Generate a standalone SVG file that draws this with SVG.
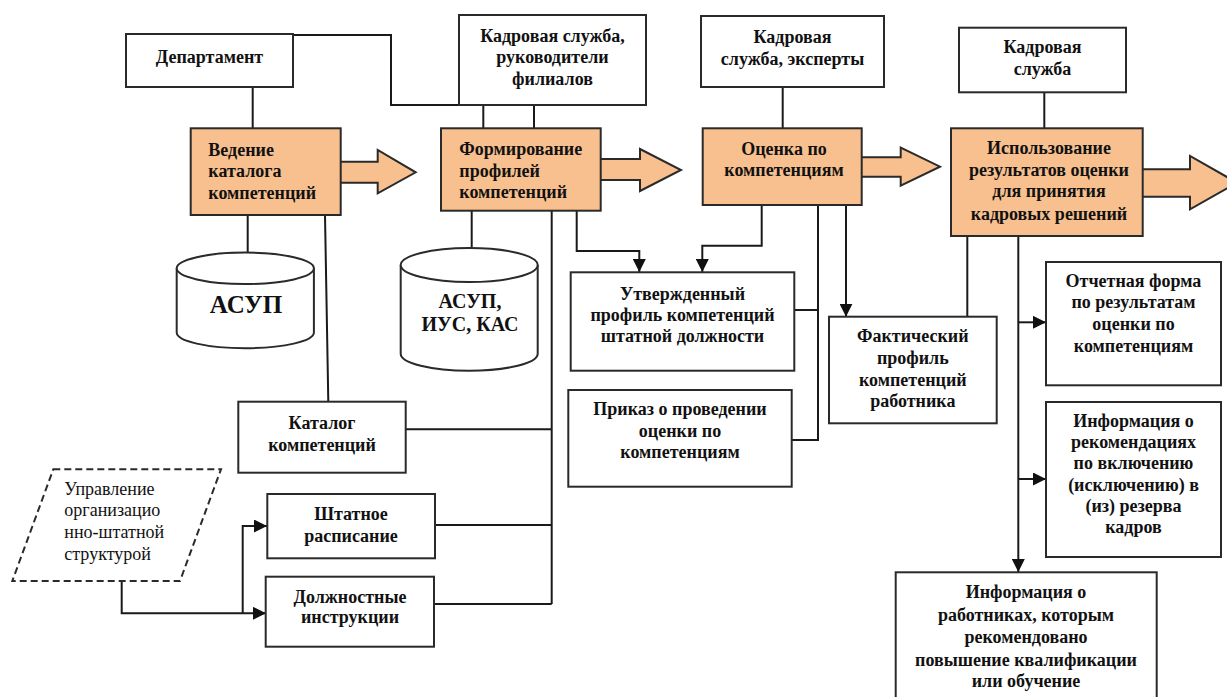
<svg xmlns="http://www.w3.org/2000/svg" width="1227" height="697" viewBox="0 0 1227 697">
<defs>
<style>
.box{fill:#fff;stroke:#2a2a2a;stroke-width:2}
.proc{fill:#F8C08F;stroke:#2a2a2a;stroke-width:2}
.ln{fill:none;stroke:#1a1a1a;stroke-width:2}
text{font-family:'Liberation Serif',Tinos,'Times New Roman',Times,'DejaVu Serif','Noto Serif',serif}
.t{font-weight:bold;font-size:18px;fill:#111;text-anchor:middle}
.tl{text-anchor:start}
.r{font-size:18px;fill:#111}
.db{fill:#fff;stroke:#2a2a2a;stroke-width:2}
</style>
<marker id="ah" markerWidth="13" markerHeight="13" refX="13" refY="6.5" orient="auto" markerUnits="userSpaceOnUse">
<path d="M0,0 L13,6.5 L0,13 Z" fill="#111"/>
</marker>
</defs>

<g id="connectors">
<path class="ln" d="M293,35 H391 V105 H459"/>
<path class="ln" d="M252.7,87 V128"/>
<path class="ln" d="M247.7,215 V253"/>
<path class="ln" d="M325,215 L328.3,402"/>
<path class="ln" d="M483.3,105 V128"/>
<path class="ln" d="M534,105 V128"/>
<path class="ln" d="M471.7,211 V248"/>
<path class="ln" d="M551.7,202 V604"/>
<path class="ln" d="M576.7,211 V251 H639.3 V272" marker-end="url(#ah)"/>
<path class="ln" d="M782.7,87 V128"/>
<path class="ln" d="M761.7,205 V245.7 H702.3 V272" marker-end="url(#ah)"/>
<path class="ln" d="M818,205 V440 H791.7"/>
<path class="ln" d="M794.3,310 H818"/>
<path class="ln" d="M846,205 V316.7" marker-end="url(#ah)"/>
<path class="ln" d="M1044.3,92 V128"/>
<path class="ln" d="M967.3,236 V316"/>
<path class="ln" d="M1018.3,236 V572" marker-end="url(#ah)"/>
<path class="ln" d="M1018.3,322.3 H1046" marker-end="url(#ah)"/>
<path class="ln" d="M1018.3,479 H1046" marker-end="url(#ah)"/>
<path class="ln" d="M405.7,429.3 H551.7"/>
<path class="ln" d="M435,525 H551.7"/>
<path class="ln" d="M434,604 H551.7"/>
<path class="ln" d="M121.7,581 V613.3 H266" marker-end="url(#ah)"/>
<path class="ln" d="M242.7,613.3 V526 H267" marker-end="url(#ah)"/>
</g>

<g id="n-department">
<rect class="box" x="126" y="34" width="167" height="53"/>
<text class="t" x="209.5" y="62.7">Департамент</text>
</g>

<g id="n-kadr1">
<rect class="box" x="459" y="15" width="187" height="90"/>
<text class="t" x="552.5" y="41.7">Кадровая служба,</text>
<text class="t" x="552.5" y="63.3">руководители</text>
<text class="t" x="552.5" y="85">филиалов</text>
</g>

<g id="n-kadr2">
<rect class="box" x="701" y="16" width="183" height="71"/>
<text class="t" x="792.5" y="42.7">Кадровая</text>
<text class="t" x="792.5" y="65">служба, эксперты</text>
</g>

<g id="n-kadr3">
<rect class="box" x="959" y="27.7" width="167" height="64.6"/>
<text class="t" x="1042.5" y="53.3">Кадровая</text>
<text class="t" x="1042.5" y="75">служба</text>
</g>

<g id="p1">
<path class="proc" d="M340.7,161.7 H377.7 V150 L415.7,172.3 L377.7,193.3 V182.7 H340.7"/>
<rect class="proc" x="190.7" y="128.3" width="150" height="86.7"/>
<text class="t tl" x="208.3" y="155.5">Ведение</text>
<text class="t tl" x="208.3" y="177">каталога</text>
<text class="t tl" x="208.3" y="198.5">компетенций</text>
</g>

<g id="p2">
<path class="proc" d="M600.7,159 H640 V149 L681,170 L640,191 V180 H600.7"/>
<rect class="proc" x="441" y="128.3" width="159.7" height="82.4"/>
<text class="t tl" x="459.3" y="155">Формирование</text>
<text class="t tl" x="459.3" y="176.5">профилей</text>
<text class="t tl" x="459.3" y="197.5">компетенций</text>
</g>

<g id="p3">
<path class="proc" d="M861.7,157.3 H900.7 V147.7 L940,166.7 L900.7,185.7 V176.7 H861.7"/>
<rect class="proc" x="702.7" y="128.3" width="159" height="76.7"/>
<text class="t" x="784" y="155">Оценка по</text>
<text class="t" x="784" y="176">компетенциям</text>
</g>

<g id="p4">
<path class="proc" d="M1142.7,169.3 H1190 V156 L1237,182.7 L1190,209.3 V196.7 H1142.7"/>
<rect class="proc" x="951" y="128.3" width="191.7" height="107.7"/>
<text class="t" x="1049" y="154">Использование</text>
<text class="t" x="1049" y="176">результатов оценки</text>
<text class="t" x="1049" y="197">для принятия</text>
<text class="t" x="1049" y="220">кадровых решений</text>
</g>

<g id="db1">
<path class="db" d="M176.7,268.3 V332.5 A68.6,15.7 0 0 0 313.9,332.5 V268.3"/>
<ellipse class="db" cx="245.3" cy="268.3" rx="68.6" ry="15.7"/>
<text class="t" x="246" y="313" style="font-size:25px">АСУП</text>
</g>

<g id="db2">
<path class="db" d="M400.7,265 V353.7 A68.5,17 0 0 0 537.7,353.7 V265"/>
<ellipse class="db" cx="469.2" cy="265" rx="68.5" ry="17"/>
<text class="t" x="470" y="308" style="font-size:20px">АСУП,</text>
<text class="t" x="470" y="331" style="font-size:20px">ИУС, КАС</text>
</g>

<g id="n-utv">
<rect class="box" x="570.7" y="272.3" width="223.6" height="98.4"/>
<text class="t" x="682.5" y="300">Утвержденный</text>
<text class="t" x="682.5" y="320.7">профиль компетенций</text>
<text class="t" x="682.5" y="341.5">штатной должности</text>
</g>

<g id="n-prikaz">
<rect class="box" x="568.3" y="390" width="223.4" height="96.7"/>
<text class="t" x="680" y="415">Приказ о проведении</text>
<text class="t" x="680" y="436.7">оценки по</text>
<text class="t" x="680" y="458.3">компетенциям</text>
</g>

<g id="n-fakt">
<rect class="box" x="829" y="316.7" width="167.7" height="106.6"/>
<text class="t" x="912.8" y="342.3">Фактический</text>
<text class="t" x="912.8" y="364">профиль</text>
<text class="t" x="912.8" y="386">компетенций</text>
<text class="t" x="912.8" y="406.7">работника</text>
</g>

<g id="n-katalog">
<rect class="box" x="238.3" y="401.7" width="167.4" height="71"/>
<text class="t" x="322" y="429">Каталог</text>
<text class="t" x="322" y="450.5">компетенций</text>
</g>

<g id="n-upr">
<path d="M53.3,469.3 H221 L180,581 H12.3 Z" fill="#fff" stroke="#2a2a2a" stroke-width="2" stroke-dasharray="7,4"/>
<text class="r" x="64.3" y="495">Управление</text>
<text class="r" x="64.3" y="516">организацио</text>
<text class="r" x="64.3" y="538">нно-штатной</text>
<text class="r" x="64.3" y="560">структурой</text>
</g>

<g id="n-shtat">
<rect class="box" x="267.3" y="494" width="167.7" height="64.3"/>
<text class="t" x="351" y="520">Штатное</text>
<text class="t" x="351" y="541.7">расписание</text>
</g>

<g id="n-dolzh">
<rect class="box" x="265.7" y="576.7" width="168.3" height="70"/>
<text class="t" x="350" y="602.7">Должностные</text>
<text class="t" x="350" y="623.3">инструкции</text>
</g>

<g id="n-otchet">
<rect class="box" x="1046" y="262" width="175" height="123.3"/>
<text class="t" x="1133.5" y="286.7">Отчетная форма</text>
<text class="t" x="1133.5" y="308.3">по результатам</text>
<text class="t" x="1133.5" y="330">оценки по</text>
<text class="t" x="1133.5" y="351.7">компетенциям</text>
</g>

<g id="n-rezerv">
<rect class="box" x="1046" y="402" width="175" height="155"/>
<text class="t" x="1133.5" y="426.7">Информация о</text>
<text class="t" x="1133.5" y="448.3">рекомендациях</text>
<text class="t" x="1133.5" y="469.3">по включению</text>
<text class="t" x="1133.5" y="490.7">(исключению) в</text>
<text class="t" x="1133.5" y="511.7">(из) резерва</text>
<text class="t" x="1133.5" y="533.3">кадров</text>
</g>

<g id="n-obuch">
<rect class="box" x="895.7" y="572.3" width="261" height="140"/>
<text class="t" x="1026" y="598.3">Информация о</text>
<text class="t" x="1026" y="621">работниках, которым</text>
<text class="t" x="1026" y="643.3">рекомендовано</text>
<text class="t" x="1026" y="665.5">повышение квалификации</text>
<text class="t" x="1026" y="687">или обучение</text>
</g>
</svg>
